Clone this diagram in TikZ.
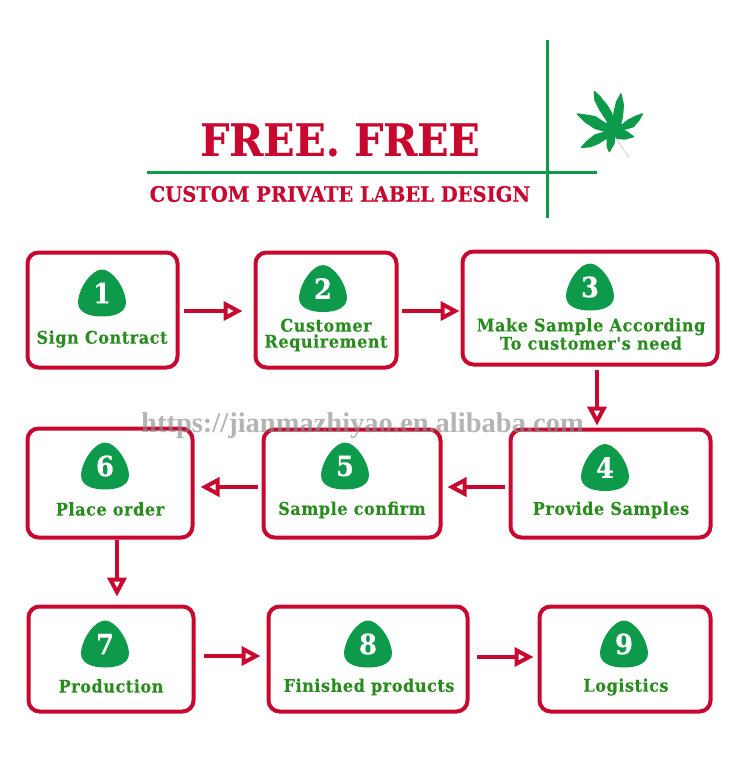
\documentclass[tikz,border=0pt]{standalone}
\usepackage{fontspec}
\usetikzlibrary{arrows.meta}
\newfontfamily\headfont[BoldFont={DejaVu Serif Bold}, BoldFeatures={FakeStretch=0.92, FakeBold=0.4}]{DejaVu Serif}
\newfontfamily\stepfont[BoldFont={DejaVu Serif Bold}, BoldFeatures={FakeStretch=0.92, LetterSpace=3, FakeBold=0.2}]{DejaVu Serif}
\newfontfamily\markfont{Liberation Serif}
\definecolor{crimson}{HTML}{C8082E}
\definecolor{linegreen}{HTML}{0E9A4B}
\definecolor{textgreen}{HTML}{2A8C1F}
\tikzset{
	stepbox/.style={draw=crimson, line width=4pt, rounded corners=11pt, outer sep=0pt, inner sep=0pt},
	steptext/.style={text=textgreen, inner sep=0pt, align=center, font=\stepfont\bfseries\fontsize{17.5}{16}\selectfont},
	flow/.style={draw=crimson, line width=3.2pt, -{Triangle[open, length=19pt, width=19pt, line width=4pt, fill=white]}},
	badge/.pic={
		\fill[linegreen] (0,-23.5) .. controls (10,-23.5) and (23,-6) .. (24,9)
			.. controls (24,19) and (14,23.5) .. (0,23.5)
			.. controls (-14,23.5) and (-24,19) .. (-24,9)
			.. controls (-23,-6) and (-10,-23.5) .. (0,-23.5) -- cycle;
		\node[text=white, inner sep=0pt, font=\headfont\bfseries\fontsize{28}{28}\selectfont] (-num) at (0,0) {#1};
	}
}

\begin{document}
\begin{tikzpicture}[x=1pt, y=-1pt]
	\useasboundingbox (0,0) rectangle (750,768);
	% title
	\node[text=crimson, inner sep=0pt, font=\headfont\bfseries\fontsize{44.5}{44}\selectfont] (title) at (340,140) {FREE. FREE};
	\node[text=crimson, inner sep=0pt, font=\headfont\bfseries\fontsize{21.2}{21}\selectfont] (subtitle) at (340,194) {CUSTOM PRIVATE LABEL DESIGN};
	\draw[linegreen, line width=3pt] (147,172) -- (597,172);
	\draw[linegreen, line width=3pt] (547,40) -- (547,218);
	% leaf
	\begin{scope}[shift={(565,85)}, x=0.3333pt, y=-0.3333pt]
		\filldraw[linegreen, line width=1.4pt, line join=round] (88,20) -- (105,35) -- (112,45) -- (125,60) -- (132,72) -- (140,85) -- (143,110)
			-- (148,80) -- (155,50) -- (168,27) -- (175,60) -- (172,95) -- (165,125)
			-- (190,105) -- (210,95) -- (232,87) -- (222,105) -- (205,125) -- (170,135)
			-- (185,140) -- (205,155) -- (180,162) -- (155,160) -- (148,155)
			-- (147,175) -- (133,200) -- (127,185) -- (127,165) -- (128,157)
			-- (100,175) -- (75,185) -- (50,187) -- (65,170) -- (90,150) -- (125,140)
			-- (90,130) -- (60,110) -- (37,87) -- (60,90) -- (90,95) -- (120,115) -- (130,118)
			-- (125,105) -- (105,75) -- (90,45) -- cycle;
		\draw[black!25, line width=0.5pt] (150,155) -- (192,218);
	\end{scope}
	% boxes
	\node[stepbox, minimum width=150pt, minimum height=115pt] (contract) at (102.5,310) {};
	\node[stepbox, minimum width=141pt, minimum height=115pt] (require) at (326,310) {};
	\node[stepbox, minimum width=255pt, minimum height=113pt] (sample) at (590,308) {};
	\node[stepbox, minimum width=200pt, minimum height=108pt] (provide) at (610.5,483.5) {};
	\node[stepbox, minimum width=177pt, minimum height=108pt] (confirm) at (352,483.5) {};
	\node[stepbox, minimum width=165pt, minimum height=109pt] (order) at (110,483) {};
	\node[stepbox, minimum width=165pt, minimum height=105pt] (production) at (111,659) {};
	\node[stepbox, minimum width=199pt, minimum height=105pt] (finished) at (368,659) {};
	\node[stepbox, minimum width=171pt, minimum height=105pt] (logistics) at (625,659) {};
	% badges
	\pic (one) at (102,293) {badge=1};
	\pic (two) at (323,288.5) {badge=2};
	\pic (three) at (590,287) {badge=3};
	\pic (four) at (605,467.5) {badge=4};
	\pic (five) at (345,466) {badge=5};
	\pic (six) at (105,466) {badge=6};
	\pic (seven) at (105,644) {badge=7};
	\pic (eight) at (368,644) {badge=8};
	\pic (nine) at (624,644) {badge=9};
	% labels
	\node[steptext] (contractlabel) at (102,339) {Sign Contract};
	\node[steptext] (requirelabel) at (326,335) {Customer\\Requirement};
	\node[steptext] (samplelabel) at (591,334) {Make Sample According\\To customer's need};
	\node[steptext] (providelabel) at (611,510) {Provide Samples};
	\node[steptext] (confirmlabel) at (352,510) {Sample confirm};
	\node[steptext] (orderlabel) at (110,509) {Place order};
	\node[steptext] (productionlabel) at (111,686) {Production};
	\node[steptext] (finishedlabel) at (369,687) {Finished products};
	\node[steptext] (logisticslabel) at (626,687) {Logistics};
	% arrows
	\draw[flow, shorten <=6pt, shorten >=13pt] ([yshift=-1pt]contract.east) -- ([yshift=-1pt]contract.east -| require.west);
	\draw[flow, shorten <=5pt, shorten >=3pt] ([yshift=-1pt]require.east) -- ([yshift=-1pt]require.east -| sample.west);
	\draw[flow, shorten <=5pt, shorten >=4pt] ([xshift=7pt]sample.south) -- ([xshift=7pt]sample.south |- provide.north);
	\draw[flow, shorten <=6pt, shorten >=7pt] ([yshift=-3.5pt]provide.west) -- ([yshift=-3.5pt]provide.west -| confirm.east);
	\draw[flow, shorten <=6pt, shorten >=8pt] ([yshift=-3.5pt]confirm.west) -- ([yshift=-3.5pt]confirm.west -| order.east);
	\draw[flow, shorten <=2pt, shorten >=10pt] ([xshift=7pt]order.south) -- ([xshift=7pt]order.south |- production.north);
	\draw[flow, shorten <=10pt, shorten >=8pt] ([yshift=3pt]production.east) -- ([yshift=3pt]production.east -| finished.west);
	\draw[flow, shorten <=9pt, shorten >=6pt] ([yshift=2pt]finished.east) -- ([yshift=2pt]finished.east -| logistics.west);
	% watermark
	\node[text=black!45, opacity=0.65, inner sep=0pt, font=\markfont\bfseries\fontsize{28.5}{28}\selectfont] (watermark) at (362.5,426) {https://jianmazhiyao.en.alibaba.com};
\end{tikzpicture}
\end{document}
